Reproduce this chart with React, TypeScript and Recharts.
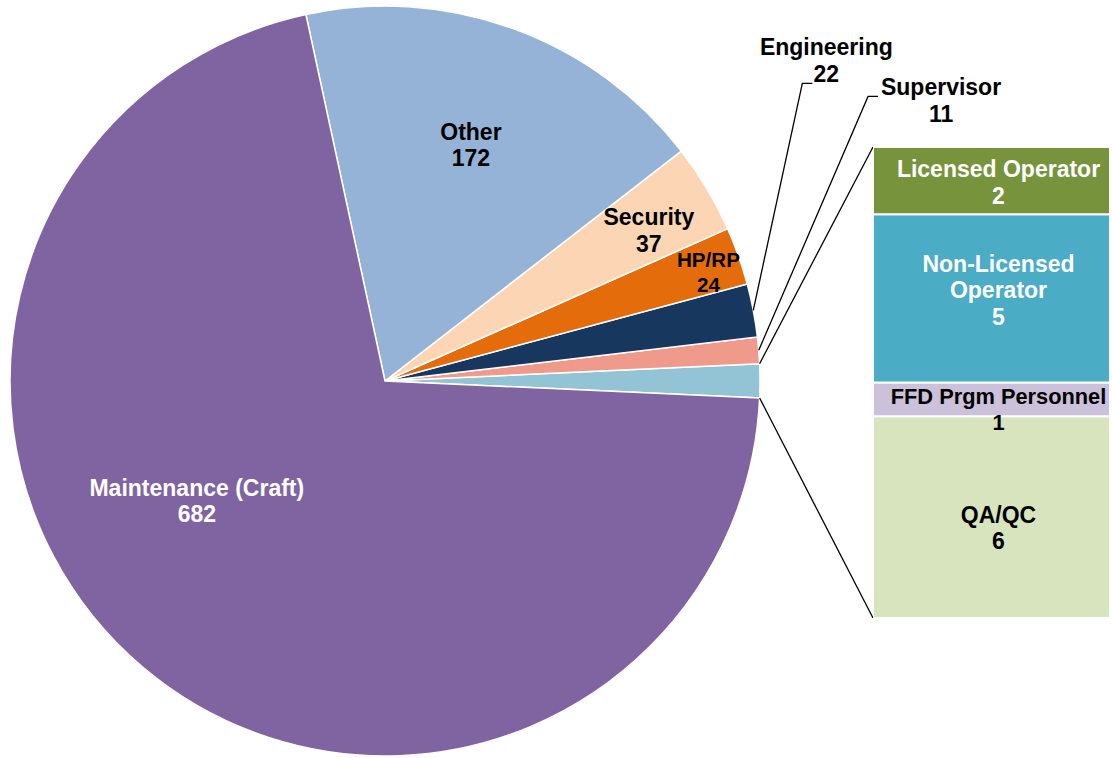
import { PieChart, Pie, Cell, BarChart, Bar, XAxis, YAxis, LabelList } from 'recharts'

const breakoutNames = ['QA/QC', 'FFD Prgm Personnel', 'Non-Licensed Operator', 'Licensed Operator']
const breakoutValues = [6, 1, 5, 2]
const breakoutTotal = breakoutValues.reduce((a, b) => a + b, 0)

const pieNames = ['Breakout', 'Supervisor', 'Engineering', 'HP/RP', 'Security', 'Other', 'Maintenance (Craft)']
const pieValues = [breakoutTotal, 11, 22, 24, 37, 172, 682]

const pieColors = ['#93C4D5', '#F09A8B', '#17375E', '#E46C0A', '#FCD5B5', '#95B3D7', '#8064A2']
const barColors = ['#D7E4BD', '#CCC1DA', '#4BACC6', '#77933C']
const barTextColors = ['#000', '#000', '#fff', '#fff']
const barLines = [['QA/QC'], ['FFD Prgm Personnel'], ['Non-Licensed', 'Operator'], ['Licensed Operator']]
const barLabelShift = [11, 10, -8, 2]
const barLabelSize = [23, 21.8, 23, 23]

const FONT = '"Liberation Sans", Arial, sans-serif'
const FS = 23
const LH = 26.5

const CX = 385
const CY = 381
const R = 375
const START = -2.6

const BAR_LEFT = 873
const BAR_TOP = 147
const BAR_W = 237
const BAR_H = 471

const pieData = pieNames.map((name, i) => ({ name, value: pieValues[i] }))
const barData = [{ name: 'Breakout', ...Object.fromEntries(breakoutValues.map((v, i) => [`k${i}`, v])) }]

const RAD = Math.PI / 180
const polar = (cx: number, cy: number, r: number, a: number) => ({
  x: cx + r * Math.cos(-a * RAD),
  y: cy + r * Math.sin(-a * RAD),
})

// inside labels: ratio of radius and (optional) angle override; outside labels use a leader
const pieLabelStyle: Record<string, any> = {
  'Maintenance (Craft)': { r: 0.595, angle: 212.5, color: '#fff' },
  Other: { r: 0.67 },
  Security: { r: 0.81, angle: 29.7 },
  'HP/RP': { r: 0.91, angle: 18.6, size: 20.6, lh: 25 },
  Engineering: { leader: { r: 1.367, angle: 35.5 }, dx: 14, dy: -36 },
  Supervisor: { leader: { r: 1.495, angle: 30.5 }, dx: 63, dy: -9 },
}

function TextBlock({ x, y, lines, color = '#000', size = FS, lh = LH }: any) {
  const top = y - ((lines.length - 1) * lh) / 2
  return (
    <text x={x} textAnchor="middle" fill={color} fontSize={size} fontWeight="bold" fontFamily={FONT}>
      {lines.map((l: string, i: number) => (
        <tspan key={i} x={x} y={top + i * lh} dominantBaseline="central">
          {l}
        </tspan>
      ))}
    </text>
  )
}

function renderPieLabel(props: any) {
  const { cx, cy, outerRadius, midAngle, startAngle, endAngle, name, value } = props
  if (name === 'Breakout') {
    const a = polar(cx, cy, outerRadius, endAngle)
    const b = polar(cx, cy, outerRadius, startAngle)
    return (
      <g>
        <line x1={a.x} y1={a.y} x2={BAR_LEFT} y2={BAR_TOP} stroke="#000" strokeWidth={1.3} />
        <line x1={b.x} y1={b.y} x2={BAR_LEFT} y2={BAR_TOP + BAR_H} stroke="#000" strokeWidth={1.3} />
      </g>
    )
  }
  const s = pieLabelStyle[name] || { r: 0.7 }
  if (s.leader) {
    const p0 = polar(cx, cy, outerRadius, midAngle)
    const p1 = polar(cx, cy, outerRadius * s.leader.r, s.leader.angle)
    const p2 = { x: p1.x + 10, y: p1.y }
    return (
      <g>
        <polyline points={`${p0.x},${p0.y} ${p1.x},${p1.y} ${p2.x},${p2.y}`} fill="none" stroke="#000" strokeWidth={1.3} />
        <TextBlock x={p2.x + s.dx} y={p2.y + s.dy + LH / 2} lines={[name, String(value)]} />
      </g>
    )
  }
  const p = polar(cx, cy, outerRadius * s.r, s.angle ?? midAngle)
  return <TextBlock x={p.x} y={p.y} lines={[name, String(value)]} color={s.color} size={s.size} lh={s.lh} />
}

const barLabel = (i: number) => (props: any) => {
  const { x, y, width, height, value } = props
  return (
    <TextBlock
      x={Number(x) + Number(width) / 2 + 7}
      y={Number(y) + Number(height) / 2 + barLabelShift[i]}
      lines={[...barLines[i], String(value)]}
      color={barTextColors[i]}
      size={barLabelSize[i]}
    />
  )
}

export default function App() {
  return (
    <div style={{ position: 'absolute', left: 0, top: 0, width: 1112, height: 758, background: '#fff' }}>
      <div style={{ position: 'absolute', left: 0, top: 0 }}>
        <PieChart width={1112} height={758} margin={{ top: 0, right: 0, bottom: 0, left: 0 }}>
          <Pie
            data={pieData}
            dataKey="value"
            nameKey="name"
            cx={CX}
            cy={CY}
            outerRadius={R}
            startAngle={START}
            endAngle={START + 360}
            stroke="#fff"
            strokeWidth={1.5}
            label={renderPieLabel}
            labelLine={false}
            isAnimationActive={false}
          >
            {pieData.map((d, i) => (
              <Cell key={d.name} fill={pieColors[i]} />
            ))}
          </Pie>
        </PieChart>
      </div>
      <div style={{ position: 'absolute', left: BAR_LEFT, top: BAR_TOP }}>
        <BarChart width={BAR_W} height={BAR_H} data={barData} margin={{ top: 0, right: 0, bottom: 0, left: 0 }} barCategoryGap={0}>
          <XAxis hide dataKey="name" type="category" />
          <YAxis hide type="number" domain={[0, breakoutTotal]} width={0} />
          {breakoutNames.map((n, i) => (
            <Bar key={n} name={n} dataKey={`k${i}`} stackId="a" fill={barColors[i]} stroke="#fff" strokeWidth={2} isAnimationActive={false}>
              <LabelList dataKey={`k${i}`} content={barLabel(i)} />
            </Bar>
          ))}
        </BarChart>
      </div>
    </div>
  )
}
